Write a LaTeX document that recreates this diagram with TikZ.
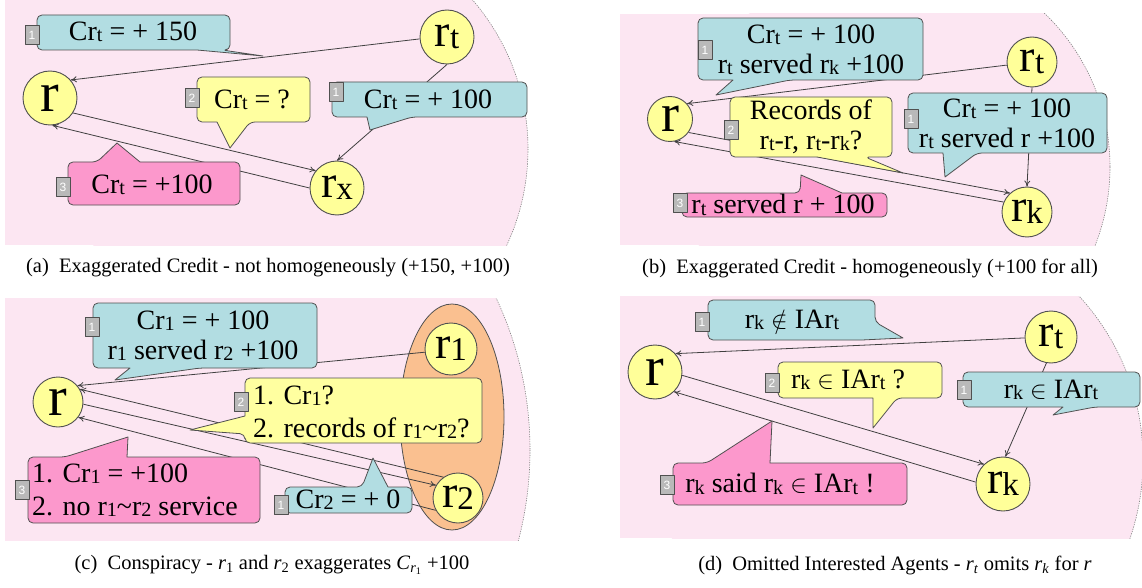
\documentclass[tikz,border=0pt]{standalone}
\usepackage{fontspec}
\setmainfont{Liberation Serif}
\newfontfamily\tagfont{Liberation Sans}
\usepackage{graphicx}
\usetikzlibrary{arrows.meta, shapes.geometric}

\definecolor{bgpink}{RGB}{252,230,242}
\definecolor{cblue}{RGB}{178,221,226}
\definecolor{cyellow}{RGB}{255,255,160}
\definecolor{cpink}{RGB}{252,152,204}
\definecolor{agentyel}{RGB}{255,255,153}
\definecolor{orng}{RGB}{250,192,144}
\definecolor{edge}{RGB}{80,80,80}
\definecolor{taggray}{RGB}{185,185,185}

% small trailing letter, as in r_t
\newcommand{\sbx}[1]{\raisebox{-0.1ex}{\scalebox{0.72}{#1}}}
% pink panel with dashed rim on the right
\newcommand{\panelbg}[7]{%
  \begin{scope}
    \clip (#1,#2) rectangle (#3,#4);
    \fill[bgpink] (#1,#2) rectangle (#5,#4);
    \fill[bgpink] (#5,#6) circle[radius=#7];
    \clip (#5,#2) rectangle (#3,#4);
    \draw[rim] (#5,#6) circle[radius=#7];
  \end{scope}}

\tikzset{
  agent/.style={circle, draw=edge, fill=agentyel, line width=0.9pt, inner sep=0pt, minimum size=52pt, font=\fontsize{46}{46}\selectfont},
  msg/.style={draw=edge!80!black, line width=0.8pt, ->},
  cb/.style={draw=edge, line width=0.8pt, rounded corners=5pt},
  lbl/.style={inner sep=0pt, font=\fontsize{28}{30}\selectfont, align=center},
  tag/.style={draw=edge, fill=taggray, line width=0.7pt, inner sep=0pt, minimum width=14pt, minimum height=19pt, font=\tagfont\fontsize{12}{12}\selectfont, text=white},
  capt/.style={font=\fontsize{20.5}{24}\selectfont, inner sep=0pt},
  rim/.style={draw=gray, line width=0.6pt, dash pattern=on 1.2pt off 1.2pt}
}

\begin{document}
\begin{tikzpicture}[x=1pt, y=-1pt, >={To[length=6pt,width=6pt]}, line join=round]
    \useasboundingbox (0,0) rectangle (1142,588);
    \fill[white] (0,0) rectangle (1142,588);

    % backgrounds
    \panelbg{5}{0}{560}{245}{300}{149}{228}
    \panelbg{620}{14}{1142}{245}{897}{167}{213}
    \panelbg{5}{298}{560}{540}{173}{450}{357}
    \panelbg{620}{296}{1142}{538}{901}{460}{242}
    \fill[orng, draw=edge, line width=0.8pt] (452,417) ellipse[x radius=52, y radius=113];

    % (a)
    \node[agent, minimum size=54pt, font=\fontsize{56}{56}\selectfont] (ra) at (50,98) {r};
    \node[agent, minimum size=54pt] (rta) at (447,37) {r\sbx{t}};
    \node[agent, minimum size=54pt] (rxa) at (337,188) {r\sbx{x}};
    \draw[msg] (rta.184) -- (ra.41);
    \draw[msg] (rta.south) -- (rxa.north);
    \draw[msg] (ra.327) -- (rxa.141);
    \draw[msg] (rxa.180) -- (ra.275);

    \draw[cb, fill=cblue] (133,15) -- (230,15) -- (230,50) -- (222,50) [sharp corners] -- (263,56) -- (197,50) [rounded corners=5pt] -- (37,50) -- (37,15) -- cycle;
    \draw[cb, fill=cyellow] (253,77) -- (310,77) -- (310,122) -- (250,122) [sharp corners] -- (230,148) -- (217,122) [rounded corners=5pt] -- (197,122) -- (197,77) -- cycle;
    \draw[cb, fill=cblue] (430,82) -- (527,82) -- (527,117) -- (412,117) [sharp corners] -- (370,130) -- (367,117) [rounded corners=5pt] -- (332,117) -- (332,82) -- cycle;
    \draw[cb, fill=cpink] (190,162) -- (240,162) -- (240,205) -- (68,205) -- (68,162) -- (97,162) [sharp corners] -- (117,143) -- (140,162) [rounded corners=5pt] -- cycle;
    \node[lbl] (a1t) at (133,32) {Cr\sbx{t} = + 150};
    \node[lbl] (a2t) at (252,100) {Cr\sbx{t} = ?};
    \node[lbl] (a3t) at (428,100) {Cr\sbx{t} = + 100};
    \node[lbl] (a4t) at (152,185) {Cr\sbx{t} = +100};
    \node[tag] (a1g) at (32,35) {1};
    \node[tag] (a2g) at (192,98) {2};
    \node[tag] (a3g) at (336,92) {1};
    \node[tag] (a4g) at (63,187) {3};

    % (b)
    \node[agent, minimum size=45pt, font=\fontsize{54}{54}\selectfont] (rb) at (670,119) {r};
    \node[agent, minimum size=50pt] (rtb) at (1032,62) {r\sbx{t}};
    \node[agent, minimum size=50pt] (rkb) at (1027,212) {r\sbx{k}};
    \draw[msg] (rtb.187) -- (rb.42);
    \draw[msg] (rtb.south) -- (rkb.north);
    \draw[msg] (rb.324) -- (rkb.132);
    \draw[msg] (rkb.157) -- (rb.281);

    \draw[cb, fill=cblue] (810,18) -- (923,18) -- (923,80) -- (790,80) [sharp corners] -- (716,95) -- (733,80) [rounded corners=5pt] -- (698,80) -- (698,18) -- cycle;
    \draw[cb, fill=cyellow] (811,97) -- (892,97) -- (892,157) -- (865,157) [sharp corners] -- (903,173) -- (817,157) [rounded corners=5pt] -- (730,157) -- (730,97) -- cycle;
    \draw[cb, fill=cblue] (1007,93) -- (1107,93) -- (1107,153) -- (977,153) [sharp corners] -- (945,177) -- (943,153) [rounded corners=5pt] -- (908,153) -- (908,93) -- cycle;
    \draw[cb, fill=cpink] (850,193) -- (887,193) -- (887,217) -- (682,217) -- (682,193) -- (800,193) [sharp corners] -- (801,175) -- (842,193) [rounded corners=5pt] -- cycle;
    \node[lbl] (b1t) at (811,50) {Cr\sbx{t} = + 100\\r\sbx{t} served r\sbx{k} +100};
    \node[lbl] (b2t) at (811,127) {Records of\\r\sbx{t}-r, r\sbx{t}-r\sbx{k}?};
    \node[lbl] (b3t) at (1007,124) {Cr\sbx{t} = + 100\\r\sbx{t} served r +100};
    \node[lbl] (b4t) at (783,205) {r\sbx{t} served r + 100};
    \node[tag] (b1g) at (705,50) {1};
    \node[tag] (b2g) at (731,130) {2};
    \node[tag] (b3g) at (911,119) {1};
    \node[tag] (b4g) at (680,203) {3};

    % (c)
    \node[agent, minimum size=50pt, font=\fontsize{56}{56}\selectfont] (rc) at (58,402) {r};
    \node[agent, minimum size=52pt] (r1c) at (451,349) {r\sbx{1}};
    \node[agent, minimum size=50pt] (r2c) at (458,498) {r\sbx{2}};
    \draw[msg] (r1c.187) -- (rc.40);
    \draw[msg] (r2c.125) -- (rc.30);
    \draw[msg] (rc.355) -- (r2c.150);
    \draw[msg] (r2c.209) -- (rc.323);

    \draw[cb, fill=cblue] (205,303) -- (317,303) -- (317,368) -- (200,368) [sharp corners] -- (115,380) -- (130,368) [rounded corners=5pt] -- (93,368) -- (93,303) -- cycle;
    \draw[cb, fill=cyellow] (363,378) -- (482,378) -- (482,443) -- (245,443) -- (245,434) [sharp corners] -- (190,430) -- (245,416) [rounded corners=5pt] -- (245,378) -- cycle;
    \draw[cb, fill=cpink] (200,457) -- (260,457) -- (260,523) -- (28,523) -- (28,457) -- (65,457) [sharp corners] -- (128,437) -- (127,457) [rounded corners=5pt] -- cycle;
    \draw[cb, fill=cblue] (300,487) -- (362,487) [sharp corners] -- (373,458) -- (388,487) [rounded corners=5pt] -- (412,487) -- (412,513) -- (285,513) -- (285,487) -- cycle;
    \node[lbl] (c1t) at (203,336) {Cr\sbx{1} = + 100\\r\sbx{1} served r\sbx{2} +100};
    \node[lbl, align=left, anchor=west, font=\fontsize{28}{33}\selectfont] (c2t) at (253,412) {1. Cr\sbx{1}?\\2. records of r\sbx{1}\textasciitilde r\sbx{2}?};
    \node[lbl, align=left, anchor=west, font=\fontsize{28}{33}\selectfont] (c3t) at (32,490) {1. Cr\sbx{1} = +100\\2. no r\sbx{1}\textasciitilde r\sbx{2} service};
    \node[lbl] (c4t) at (348,500) {Cr\sbx{2} = + 0};
    \node[tag] (c1g) at (92,327) {1};
    \node[tag] (c2g) at (241,402) {2};
    \node[tag] (c3g) at (22,490) {3};
    \node[tag] (c4g) at (281,505) {1};

    % (d)
    \node[agent, minimum size=54pt, font=\fontsize{56}{56}\selectfont] (rd) at (655,372) {r};
    \node[agent, minimum size=52pt] (rtd) at (1051,337) {r\sbx{t}};
    \node[agent, minimum size=54pt] (rkd) at (1003,484) {r\sbx{k}};
    \draw[msg] (rtd.182) -- (rd.42);
    \draw[msg] (rtd.260) -- (rkd.85);
    \draw[msg] (rd.353) -- (rkd.134);
    \draw[msg] (rkd.176) -- (rd.314);

    \draw[cb, fill=cblue] (790,300) -- (875,300) -- (875,322) [sharp corners] -- (903,338) -- (862,340) [rounded corners=5pt] -- (708,340) -- (708,300) -- cycle;
    \draw[cb, fill=cyellow] (860,362) -- (942,362) -- (942,398) -- (897,398) [sharp corners] -- (873,428) -- (873,398) [rounded corners=5pt] -- (778,398) -- (778,362) -- cycle;
    \draw[cb, fill=cblue] (1050,372) -- (1140,372) -- (1140,407) -- (1095,407) [sharp corners] -- (1053,415) -- (1063,407) [rounded corners=5pt] -- (963,407) -- (963,372) -- cycle;
    \draw[cb, fill=cpink] (850,463) -- (907,463) -- (907,505) -- (673,505) -- (673,463) -- (707,463) [sharp corners] -- (772,421) -- (770,463) [rounded corners=5pt] -- cycle;
    \node[lbl] (d1t) at (792,320) {r\sbx{k}\ $\notin$ IAr\sbx{t}};
    \node[lbl] (d2t) at (848,380) {r\sbx{k} $\in$ IAr\sbx{t} ?};
    \node[lbl] (d3t) at (1051,390) {r\sbx{k} $\in$ IAr\sbx{t}};
    \node[lbl] (d4t) at (780,484) {r\sbx{k} said r\sbx{k} $\in$ IAr\sbx{t} !};
    \node[tag] (d1g) at (702,322) {1};
    \node[tag] (d2g) at (772,383) {2};
    \node[tag] (d3g) at (964,390) {1};
    \node[tag] (d4g) at (667,485) {3};

    % captions
    \node[capt] (capa) at (268,268) {(a)\enspace Exaggerated Credit - not homogeneously (+150, +100)};
    \node[capt] (capb) at (870,268) {(b)\enspace Exaggerated Credit - homogeneously (+100 for all)};
    \node[capt] (capc) at (272,565) {(c)\enspace Conspiracy - \textit{r}\textsubscript{1} and \textit{r}\textsubscript{2} exaggerates \textit{C}\textsubscript{\textit{r}\textsubscript{1}} +100};
    \node[capt] (capd) at (895,565) {(d)\enspace Omitted Interested Agents - \textit{r}\textsubscript{\textit{t}} omits \textit{r}\textsubscript{\textit{k}} for \textit{r}};
\end{tikzpicture}
\end{document}
